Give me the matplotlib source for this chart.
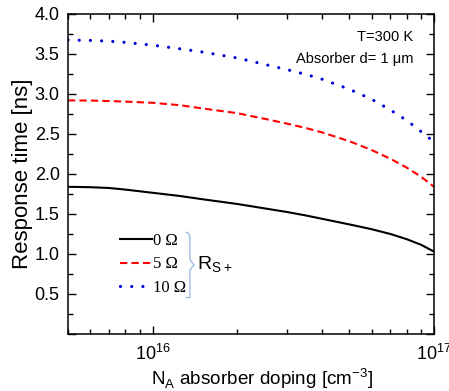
import matplotlib
matplotlib.use("Agg")
import matplotlib.pyplot as plt
import matplotlib.ticker as mticker
from matplotlib.path import Path
from matplotlib.patches import PathPatch

plt.rcParams["font.family"] = ["Liberation Sans", "DejaVu Sans"]
plt.rcParams["mathtext.fontset"] = "custom"
plt.rcParams["mathtext.rm"] = "Liberation Sans"

# doping concentration [cm^-3]
doping = [5e15, 6e15, 7e15, 8e15, 1e16, 1.25e16, 1.5e16, 2e16, 2.5e16, 3e16,
          3.5e16, 4e16, 5e16, 6e16, 7e16, 8e16, 9e16, 1e17]
# response time [ns] for each series resistance R_S+
t_0ohm = [1.84, 1.835, 1.825, 1.805, 1.765, 1.725, 1.685, 1.625, 1.57, 1.525,
          1.482, 1.44, 1.37, 1.31, 1.25, 1.185, 1.115, 1.03]
t_5ohm = [2.92, 2.918, 2.912, 2.905, 2.89, 2.86, 2.82, 2.76, 2.69, 2.63,
          2.575, 2.52, 2.41, 2.30, 2.19, 2.08, 1.965, 1.84]
t_10ohm = [3.675, 3.67, 3.66, 3.645, 3.61, 3.565, 3.525, 3.45, 3.37, 3.305,
           3.245, 3.185, 3.06, 2.935, 2.80, 2.67, 2.53, 2.40]
labels = ["0 \u03a9", "5 \u03a9", "10 \u03a9"]

fig = plt.figure(figsize=(4.49, 3.91), dpi=100)
ax = fig.add_axes([0.1514, 0.1458, 0.8152, 0.8184])

ax.plot(doping, t_0ohm, color="black", lw=1.5, label=labels[0])
ax.plot(doping, t_5ohm, color="#ff0000", lw=1.5, dashes=(3.5, 2.0), label=labels[1])
ax.plot(doping, t_10ohm, color="#0000dd", lw=2.3, linestyle=(0, (0.01, 3.5)),
        dash_capstyle="round", label=labels[2])

ax.set_xscale("log")
ax.set_xlim(5e15, 1e17)
ax.set_ylim(0, 4.0)
ax.yaxis.set_major_locator(mticker.MultipleLocator(0.5))
ax.yaxis.set_minor_locator(mticker.MultipleLocator(0.25))
ax.yaxis.set_major_formatter(
    mticker.FuncFormatter(lambda v, p: "" if v < 0.01 else f"{v:.1f}"))
ax.xaxis.set_major_locator(mticker.LogLocator(base=10, numticks=10))
ax.xaxis.set_minor_locator(mticker.LogLocator(base=10, subs=range(2, 10), numticks=10))
ax.xaxis.set_minor_formatter(mticker.NullFormatter())

ax.tick_params(which="both", direction="in", top=True, right=True, labelsize=13)
ax.tick_params(which="major", length=6, width=1)
ax.tick_params(which="minor", length=3.5, width=1)
ax.tick_params(axis="y", pad=6)
ax.tick_params(axis="x", pad=7)
for s in ax.spines.values():
    s.set_linewidth(1.1)

ax.set_ylabel("Response time [ns]", fontsize=16, labelpad=1)
ax.set_xlabel(r"N$_\mathregular{A}$ absorber doping [cm$^\mathregular{-3}$]",
              fontsize=13.6)
ax.xaxis.set_label_coords(0.53, -0.1)

ax.text(0.943, 0.928, "T=300 K", transform=ax.transAxes, ha="right", va="center",
        fontsize=10.5)
ax.text(0.943, 0.859, "Absorber d= 1 \u03bcm", transform=ax.transAxes, ha="right",
        va="center", fontsize=10.5)

ax.legend(loc="lower left", bbox_to_anchor=(0.142, 0.119), frameon=False,
          borderpad=0, borderaxespad=0, handlelength=1.95, handletextpad=0.05,
          labelspacing=0.45, prop={"family": "Liberation Serif", "size": 12})

# curly brace grouping the legend entries
bx, yt, yb = 0.333, 0.318, 0.114
ym = (yt + yb) / 2
verts = [(bx - 0.012, yt), (bx, yt), (bx, yt - 0.02), (bx, yt - 0.03),
         (bx, ym + 0.02), (bx, ym + 0.012), (bx + 0.012, ym),
         (bx, ym - 0.012), (bx, ym - 0.02), (bx, yb + 0.03),
         (bx, yb + 0.02), (bx, yb), (bx - 0.012, yb)]
codes = [Path.MOVETO, Path.CURVE3, Path.CURVE3, Path.LINETO,
         Path.LINETO, Path.CURVE3, Path.CURVE3, Path.CURVE3, Path.CURVE3,
         Path.LINETO, Path.CURVE3, Path.CURVE3, Path.LINETO]
ax.add_patch(PathPatch(Path(verts, codes), transform=ax.transAxes, fill=False,
                       edgecolor="#9dbce0", lw=1.0))
ax.text(0.352, ym, r"R$_\mathregular{S+}$", transform=ax.transAxes, ha="left",
        va="center", fontsize=14)

fig.savefig("out.png", dpi=100)
